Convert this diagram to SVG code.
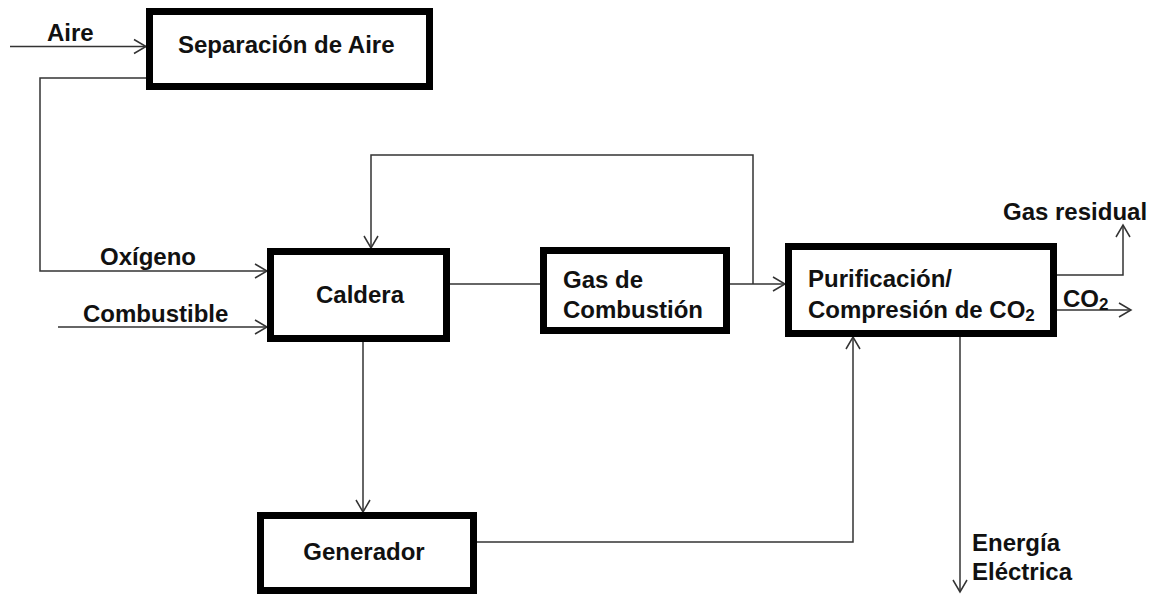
<svg xmlns="http://www.w3.org/2000/svg" width="1156" height="594" viewBox="0 0 1156 594">
<style>
.box{fill:#fff;stroke:#000;stroke-width:7}
.t{font-family:"Liberation Sans",Arial,sans-serif;font-weight:bold;font-size:24px;fill:#111}
.c{fill:none;stroke:#333;stroke-width:1.5}
</style>
<defs>
<marker id="a" markerUnits="userSpaceOnUse" markerWidth="16" markerHeight="18" refX="13" refY="8" orient="auto" viewBox="0 0 16 16">
<path d="M1,1 L13,8 L1,15" fill="none" stroke="#333" stroke-width="1.5"/>
</marker>
</defs>
<rect width="1156" height="594" fill="#fff"/>
<g id="connectors">
<path class="c" d="M10,46.5 H146" marker-end="url(#a)"/>
<path class="c" d="M146,78 H40 V271 H267" marker-end="url(#a)"/>
<path class="c" d="M58,327 H267" marker-end="url(#a)"/>
<path class="c" d="M450,284 H540"/>
<path class="c" d="M730,284 H785" marker-end="url(#a)"/>
<path class="c" d="M753,284 V155 H371 V248" marker-end="url(#a)"/>
<path class="c" d="M363,342 V512" marker-end="url(#a)"/>
<path class="c" d="M477,542 H853 V337" marker-end="url(#a)"/>
<path class="c" d="M1057,275 H1123 V225" marker-end="url(#a)"/>
<path class="c" d="M1057,310 H1131" marker-end="url(#a)"/>
<path class="c" d="M960,337 V592" marker-end="url(#a)"/>
</g>
<g id="labels">
<text class="t" x="47" y="41">Aire</text>
<text class="t" x="100" y="265">Oxígeno</text>
<text class="t" x="83" y="322">Combustible</text>
<text class="t" x="1003" y="220">Gas residual</text>
<text class="t" x="1063" y="307">CO<tspan font-size="17" dy="3">2</tspan></text>
<text class="t" x="972" y="551">Energía</text>
<text class="t" x="972" y="580">Eléctrica</text>
</g>
<g id="sep">
<rect class="box" x="149.5" y="11.5" width="280" height="75"/>
<text class="t" x="178" y="53">Separación de Aire</text>
</g>
<g id="caldera">
<rect class="box" x="270.5" y="251.5" width="176" height="87"/>
<text class="t" x="360" y="303" text-anchor="middle">Caldera</text>
</g>
<g id="gas">
<rect class="box" x="543.5" y="250.5" width="183" height="80"/>
<text class="t" x="563" y="288">Gas de</text>
<text class="t" x="563" y="318">Combustión</text>
</g>
<g id="pur">
<rect class="box" x="788.5" y="246.5" width="265" height="87"/>
<text class="t" x="808" y="287">Purificación/</text>
<text class="t" x="808" y="318">Compresión de CO<tspan font-size="17" dy="3">2</tspan></text>
</g>
<g id="gen">
<rect class="box" x="260.5" y="515.5" width="213" height="75"/>
<text class="t" x="364" y="560" text-anchor="middle">Generador</text>
</g>
</svg>
